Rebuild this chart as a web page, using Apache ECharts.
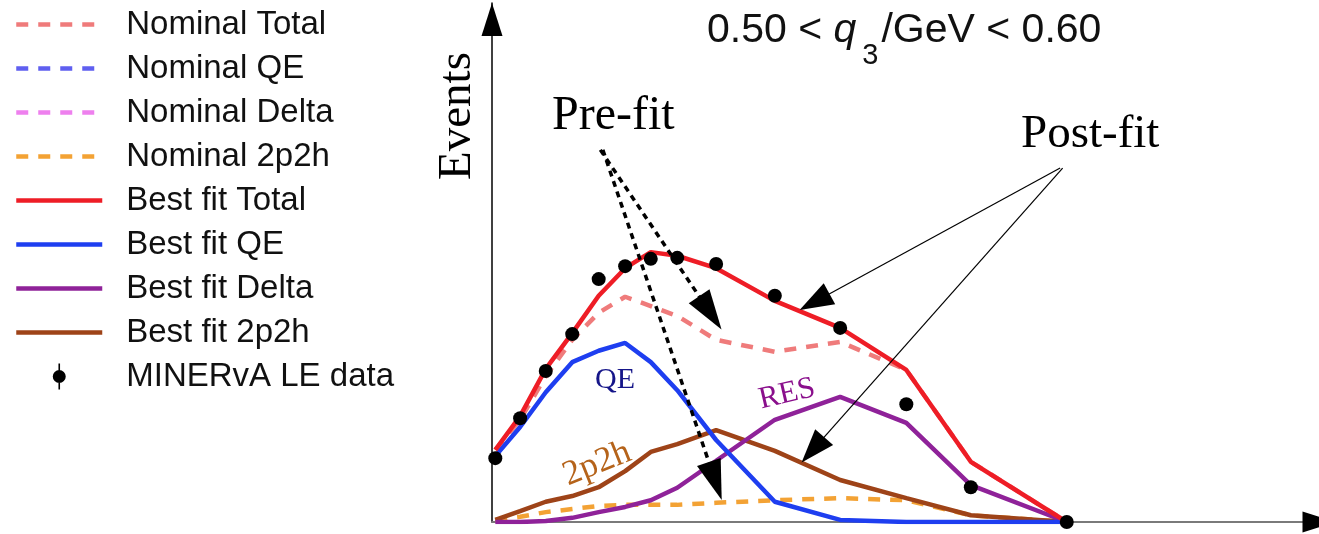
<!DOCTYPE html>
<html>
<head>
<meta charset="utf-8">
<script src="https://cdn.jsdelivr.net/npm/echarts@6/dist/echarts.min.js"></script>
<style>
  html, body { margin: 0; padding: 0; background: #fff; }
  #chart { width: 1319px; height: 534px; }
</style>
</head>
<body>
<div id="chart"></div>
<script>
// ---- data (arbitrary units) ----
const xValues     = [0.4, 3.4, 6.5, 9.7, 12.9, 16.1, 19.2, 22.4, 27.1, 34.2, 42.1, 50.1, 57.9, 69.5];
const dataEvents  = [12.3, 20.0, 29.1, 36.2, 46.8, 49.3, 50.7, 50.9, 49.7, 43.6, 37.4, 22.7, 6.7, 0];
const bestTotal   = [13.9, 20.4, 29.5, 36.4, 43.6, 48.9, 52.0, 51.3, 48.9, 42.6, 37.4, 29.3, 11.6, 0];
const nomTotal    = [13.9, 19.7, 28.1, 35.1, 40.3, 43.4, 41.6, 39.7, 35.1, 32.8, 34.7, 29.3, 11.6, 0];
const bestQE      = [12.7, 18.3, 25.0, 30.8, 33.0, 34.5, 30.8, 25.4, 15.8, 3.9, 0.4, 0, 0, 0];
const bestDelta   = [0, 0, 0.2, 0.8, 1.9, 2.9, 4.2, 6.6, 11.8, 19.7, 24.1, 19.1, 7.1, 0];
const best2p2h    = [0.4, 2.1, 3.9, 5.0, 6.7, 9.8, 13.5, 15.0, 17.7, 13.7, 8.1, 4.6, 1.3, 0];
const nom2p2h     = [0.4, 1.0, 1.9, 2.5, 3.1, 3.3, 3.3, 3.3, 3.7, 4.2, 4.6, 4.2, 1.3, 0];
const nomQE       = [];
const nomDelta    = [];
const legendNames = ['Nominal Total', 'Nominal QE', 'Nominal Delta', 'Nominal 2p2h',
                     'Best fit Total', 'Best fit QE', 'Best fit Delta', 'Best fit 2p2h', 'MINERvA LE data'];
// annotation arrows: [start, end] in data units
const preFitArrows  = [[[13.1, 71.7], [26.4, 40.3]], [[13.4, 71.7], [27.0, 7.9]]];
const postFitArrows = [[[68.7, 68.2], [39.0, 42.4]], [[69.0, 68.2], [38.8, 13.9]]];

function pairs(ys) { return ys.map((y, i) => [xValues[i], y]); }

const chart = echarts.init(document.getElementById('chart'), null, { renderer: 'canvas' });

function lineSeries(name, ys, color, dashed) {
  return {
    name: name, type: 'line', data: pairs(ys), symbol: 'none', smooth: false,
    lineStyle: { color: color, width: 4.5, type: dashed ? [12, 10] : 'solid' },
    itemStyle: { color: color },
    emphasis: { disabled: true }, silent: true
  };
}

function arrowMarkLine(arrows, headSize, lineStyle) {
  return {
    silent: true, animation: false, z: 6,
    symbol: ['none', 'triangle'], symbolSize: 10,
    label: { show: false },
    itemStyle: { color: '#000' },
    lineStyle: lineStyle,
    emphasis: { disabled: true },
    data: arrows.map(a => [
      { coord: a[0], symbol: 'none' },
      { coord: a[1], symbol: 'triangle', symbolSize: headSize }
    ])
  };
}

const series = [
  lineSeries('Nominal Total', nomTotal, '#ef7b7b', true),
  lineSeries('Nominal QE', nomQE, '#5f5ff0', true),
  lineSeries('Nominal Delta', nomDelta, '#ee80ee', true),
  lineSeries('Nominal 2p2h', nom2p2h, '#f3a234', true),
  lineSeries('Best fit 2p2h', best2p2h, '#9e4318', false),
  lineSeries('Best fit Delta', bestDelta, '#8f2299', false),
  lineSeries('Best fit QE', bestQE, '#1e3ef0', false),
  lineSeries('Best fit Total', bestTotal, '#ee1d26', false),
  {
    name: 'MINERvA LE data', type: 'scatter', data: pairs(dataEvents),
    symbol: 'circle', symbolSize: 14, itemStyle: { color: '#000', opacity: 1 }, silent: true, z: 4
  },
  {
    name: 'prefit', type: 'line', data: [], silent: true, itemStyle: { color: '#000' },
    markLine: arrowMarkLine(preFitArrows, [25, 40], { color: '#000', width: 3.5, type: [6, 5] })
  },
  {
    name: 'postfit', type: 'line', data: [], silent: true, itemStyle: { color: '#000' },
    markLine: arrowMarkLine(postFitArrows, [24, 34], { color: '#000', width: 1.2, type: 'solid' })
  }
];

const serif = '"Liberation Serif", "DejaVu Serif", serif';
const sans = '"Liberation Sans", Arial, sans-serif';

chart.setOption({
  animation: false,
  backgroundColor: '#fff',
  title: {
    left: 707, top: 10, padding: 0,
    text: '{a|0.50 < }{q|q}{s|3}{a|/GeV < 0.60}',
    textStyle: {
      fontWeight: 'normal',
      rich: {
        a: { fontSize: 41, lineHeight: 41, fontFamily: sans, fontWeight: 'normal', color: '#111', verticalAlign: 'top' },
        q: { fontSize: 41, lineHeight: 41, fontFamily: sans, fontWeight: 'normal', fontStyle: 'italic', color: '#111', verticalAlign: 'top' },
        s: { fontSize: 29, lineHeight: 29, fontFamily: sans, fontWeight: 'normal', color: '#111', verticalAlign: 'top', padding: [31, 3, 0, 6] }
      }
    }
  },
  legend: {
    orient: 'vertical', left: 14, top: 8, padding: 0,
    itemWidth: 86, itemHeight: 26, itemGap: 11,
    selectedMode: false,
    lineStyle: { width: 4.5 },
    textStyle: { fontSize: 33, lineHeight: 33, fontFamily: sans, color: '#111', padding: [0, 0, 0, 19] },
    data: legendNames.map(n => n === 'MINERvA LE data'
      ? { name: n, icon: 'path://M5.2,0 h1.6 v26 h-1.6 Z M-0.5,13 a6.5,6.5 0 1,1 13,0 a6.5,6.5 0 1,1 -13,0 Z', itemStyle: { color: '#000', opacity: 1 } }
      : { name: n, itemStyle: { opacity: 0 } })
  },
  grid: { left: 492, right: 0, top: 3, bottom: 12, containLabel: false },
  xAxis: [
    {
      type: 'value', min: 0, max: 100, position: 'bottom',
      axisLine: { show: true, lineStyle: { color: '#7a7a7a', width: 2 } },
      axisTick: { show: false }, axisLabel: { show: false }, splitLine: { show: false }
    },
    {
      type: 'value', min: 0, max: 100, position: 'bottom', offset: 0,
      axisLine: { show: true, lineStyle: { color: '#000', width: 0 },
                  symbol: ['none', 'triangle'], symbolSize: [21, 33], symbolOffset: [0, 0] },
      axisTick: { show: false }, axisLabel: { show: false }, splitLine: { show: false }
    }
  ],
  yAxis: {
    type: 'value', min: 0, max: 100,
    axisLine: { show: true, lineStyle: { color: '#000', width: 1.5 },
                symbol: ['none', 'triangle'], symbolSize: [21, 33], symbolOffset: [0, -16.5] },
    axisTick: { show: false }, axisLabel: { show: false }, splitLine: { show: false }
  },
  graphic: [
    { type: 'text', x: 458, y: 116, rotation: Math.PI / 2, silent: true,
      style: { text: 'Events', font: '47px ' + serif, fill: '#000', align: 'center', verticalAlign: 'middle' } },
    { type: 'text', x: 552, y: 116, silent: true,
      style: { text: 'Pre-fit', font: '48px ' + serif, fill: '#000', align: 'left', verticalAlign: 'middle' } },
    { type: 'text', x: 1021, y: 135, silent: true,
      style: { text: 'Post-fit', font: '47px ' + serif, fill: '#000', align: 'left', verticalAlign: 'middle' } },
    { type: 'text', x: 615, y: 380, silent: true,
      style: { text: 'QE', font: '30px ' + serif, fill: '#151589', align: 'center', verticalAlign: 'middle' } },
    { type: 'text', x: 597, y: 464, rotation: 0.38, silent: true,
      style: { text: '2p2h', font: '35px ' + serif, fill: '#b5631a', align: 'center', verticalAlign: 'middle' } },
    { type: 'text', x: 787, y: 394, rotation: 0.23, silent: true,
      style: { text: 'RES', font: '31px ' + serif, fill: '#8a0f8c', align: 'center', verticalAlign: 'middle' } }
  ],
  series: series
});
</script>
</body>
</html>
